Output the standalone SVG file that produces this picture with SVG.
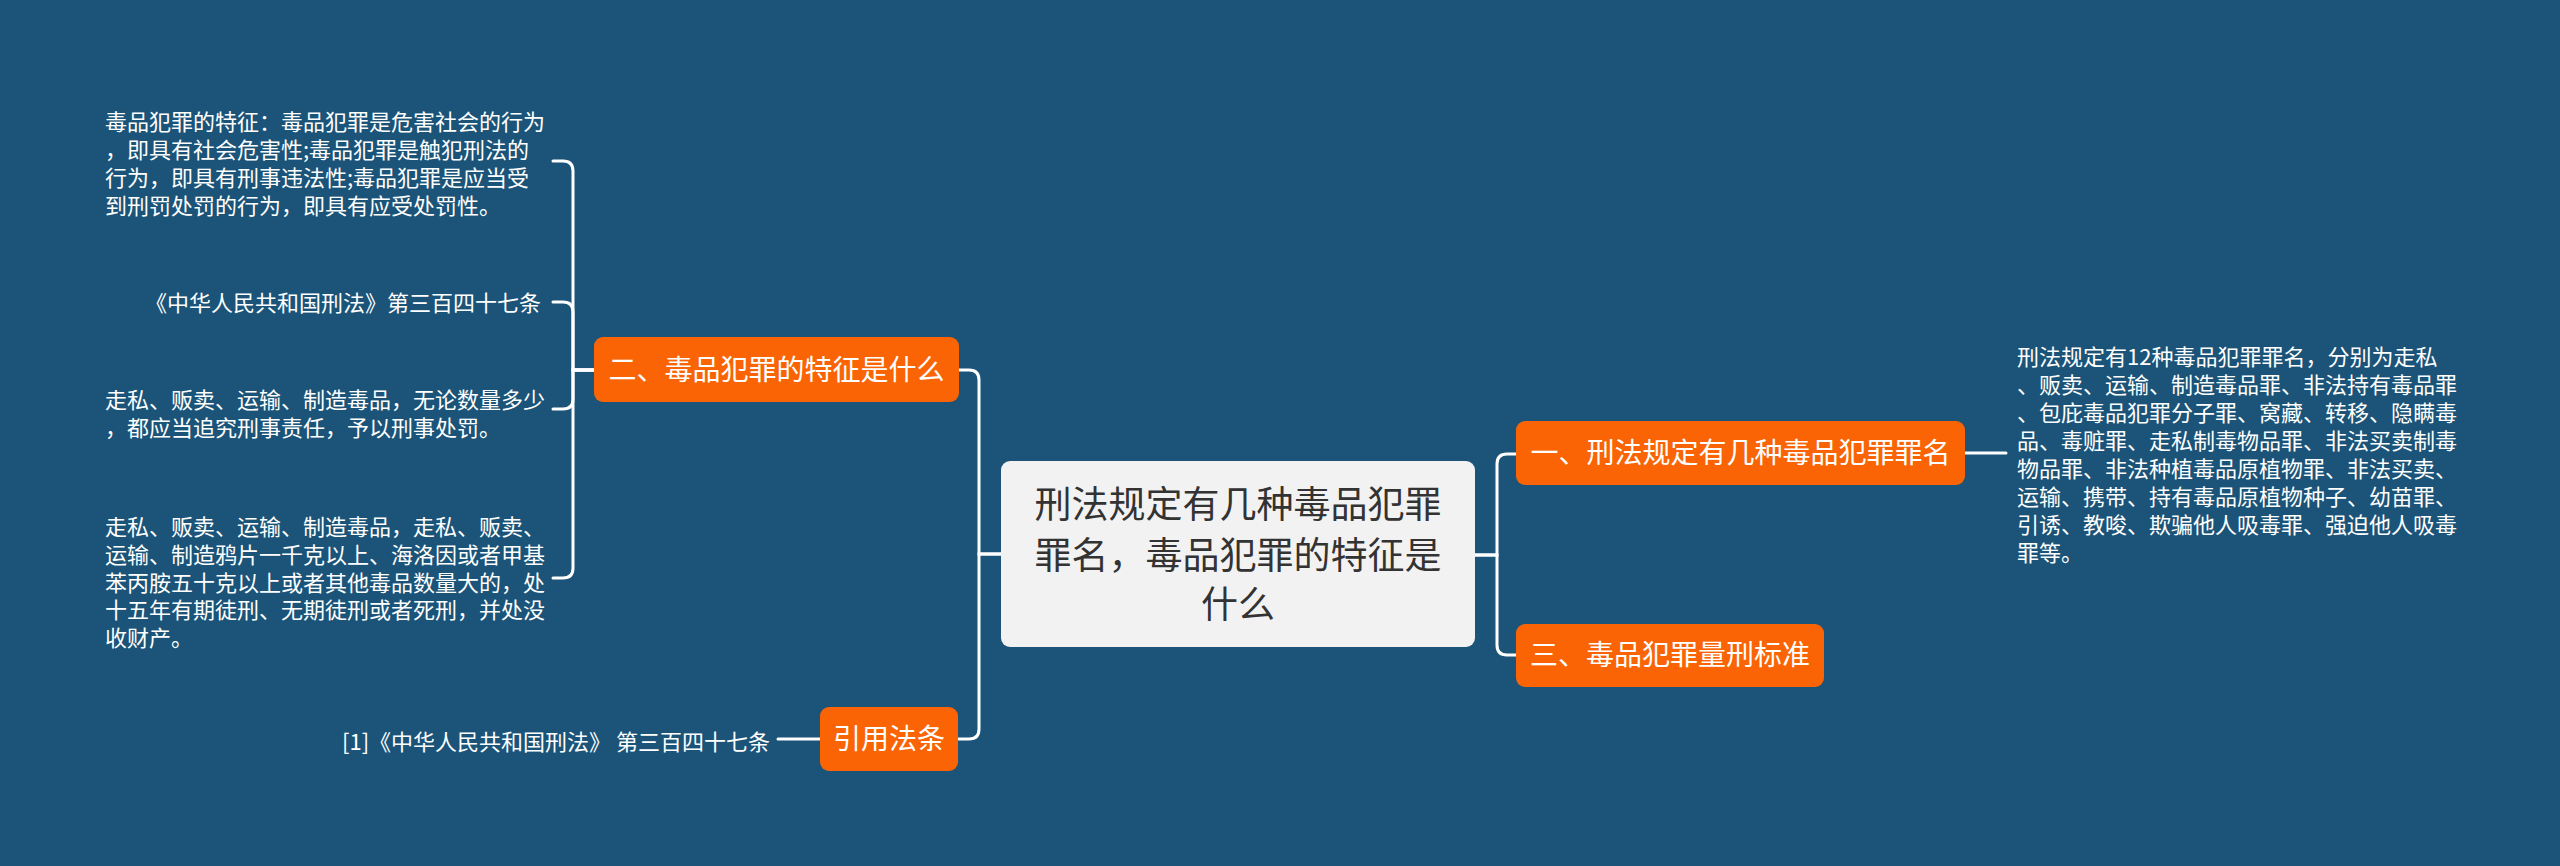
<svg xmlns="http://www.w3.org/2000/svg" width="2560" height="866" viewBox="0 0 2560 866">
<style>
.bg{fill:#1b5478}
.line{fill:none;stroke:#ffffff;stroke-width:3;stroke-linecap:round}
.orange{fill:#fa6405}
.center{fill:#f2f2f2}
.t{font-family:"Noto Sans CJK SC","Liberation Sans",sans-serif}
.ot{font-size:28px;fill:#ffffff;text-anchor:middle}
.ct{font-size:37px;fill:#333333;text-anchor:middle}
.st{font-size:22px;fill:#ffffff}
</style>
<rect class="bg" x="0" y="0" width="2560" height="866"/>
<g id="connectors">
<path class="line" d="M1001 554 H979 V380 Q979 370 969 370 H959"/>
<path class="line" d="M1001 554 H979 V729 Q979 739 969 739 H958"/>
<path class="line" d="M1475 555 H1497 V464 Q1497 454 1507 454 H1516"/>
<path class="line" d="M1475 555 H1497 V645 Q1497 655 1507 655 H1516"/>
<path class="line" d="M1965 453 H2006"/>
<path class="line" d="M594 370 H573 V171 Q573 161 563 161 H553"/>
<path class="line" d="M594 370 H573 V312 Q573 302 563 302 H553"/>
<path class="line" d="M594 370 H573 V399 Q573 409 563 409 H553"/>
<path class="line" d="M594 370 H573 V568 Q573 578 563 578 H553"/>
<path class="line" d="M820 739 H778"/>
</g>
<g id="center-node">
<rect class="center" x="1001" y="461" width="474" height="186" rx="9"/>
<text class="t ct" x="1238" y="518">刑法规定有几种毒品犯罪</text>
<text class="t ct" x="1238" y="569">罪名，毒品犯罪的特征是</text>
<text class="t ct" x="1238" y="618">什么</text>
</g>
<g id="node-one">
<rect class="orange" x="1516" y="421" width="449" height="64" rx="9"/>
<text class="t ot" x="1740.5" y="463">一、刑法规定有几种毒品犯罪罪名</text>
</g>
<g id="node-one-detail">
<text class="t st" x="2017" y="365">刑法规定有12种毒品犯罪罪名，分别为走私</text>
<text class="t st" x="2017" y="393">、贩卖、运输、制造毒品罪、非法持有毒品罪</text>
<text class="t st" x="2017" y="421">、包庇毒品犯罪分子罪、窝藏、转移、隐瞒毒</text>
<text class="t st" x="2017" y="449">品、毒赃罪、走私制毒物品罪、非法买卖制毒</text>
<text class="t st" x="2017" y="477">物品罪、非法种植毒品原植物罪、非法买卖、</text>
<text class="t st" x="2017" y="505">运输、携带、持有毒品原植物种子、幼苗罪、</text>
<text class="t st" x="2017" y="533">引诱、教唆、欺骗他人吸毒罪、强迫他人吸毒</text>
<text class="t st" x="2017" y="561">罪等。</text>
</g>
<g id="node-three">
<rect class="orange" x="1516" y="624" width="308" height="63" rx="9"/>
<text class="t ot" x="1670" y="665">三、毒品犯罪量刑标准</text>
</g>
<g id="node-two">
<rect class="orange" x="594" y="337" width="365" height="65" rx="9"/>
<text class="t ot" x="776.5" y="380">二、毒品犯罪的特征是什么</text>
</g>
<g id="node-two-text1">
<text class="t st" x="105" y="130">毒品犯罪的特征：毒品犯罪是危害社会的行为</text>
<text class="t st" x="105" y="158">，即具有社会危害性;毒品犯罪是触犯刑法的</text>
<text class="t st" x="105" y="186">行为，即具有刑事违法性;毒品犯罪是应当受</text>
<text class="t st" x="105" y="214">到刑罚处罚的行为，即具有应受处罚性。</text>
</g>
<g id="node-two-text2">
<text class="t st" x="541" y="311" text-anchor="end">《中华人民共和国刑法》第三百四十七条</text>
</g>
<g id="node-two-text3">
<text class="t st" x="105" y="408">走私、贩卖、运输、制造毒品，无论数量多少</text>
<text class="t st" x="105" y="436">，都应当追究刑事责任，予以刑事处罚。</text>
</g>
<g id="node-two-text4">
<text class="t st" x="105" y="535">走私、贩卖、运输、制造毒品，走私、贩卖、</text>
<text class="t st" x="105" y="563">运输、制造鸦片一千克以上、海洛因或者甲基</text>
<text class="t st" x="105" y="591">苯丙胺五十克以上或者其他毒品数量大的，处</text>
<text class="t st" x="105" y="618">十五年有期徒刑、无期徒刑或者死刑，并处没</text>
<text class="t st" x="105" y="646">收财产。</text>
</g>
<g id="node-cite">
<rect class="orange" x="820" y="707" width="138" height="64" rx="9"/>
<text class="t ot" x="889" y="749">引用法条</text>
</g>
<g id="node-cite-detail">
<text class="t st" x="342" y="750">[1]《中华人民共和国刑法》 第三百四十七条</text>
</g>
</svg>
